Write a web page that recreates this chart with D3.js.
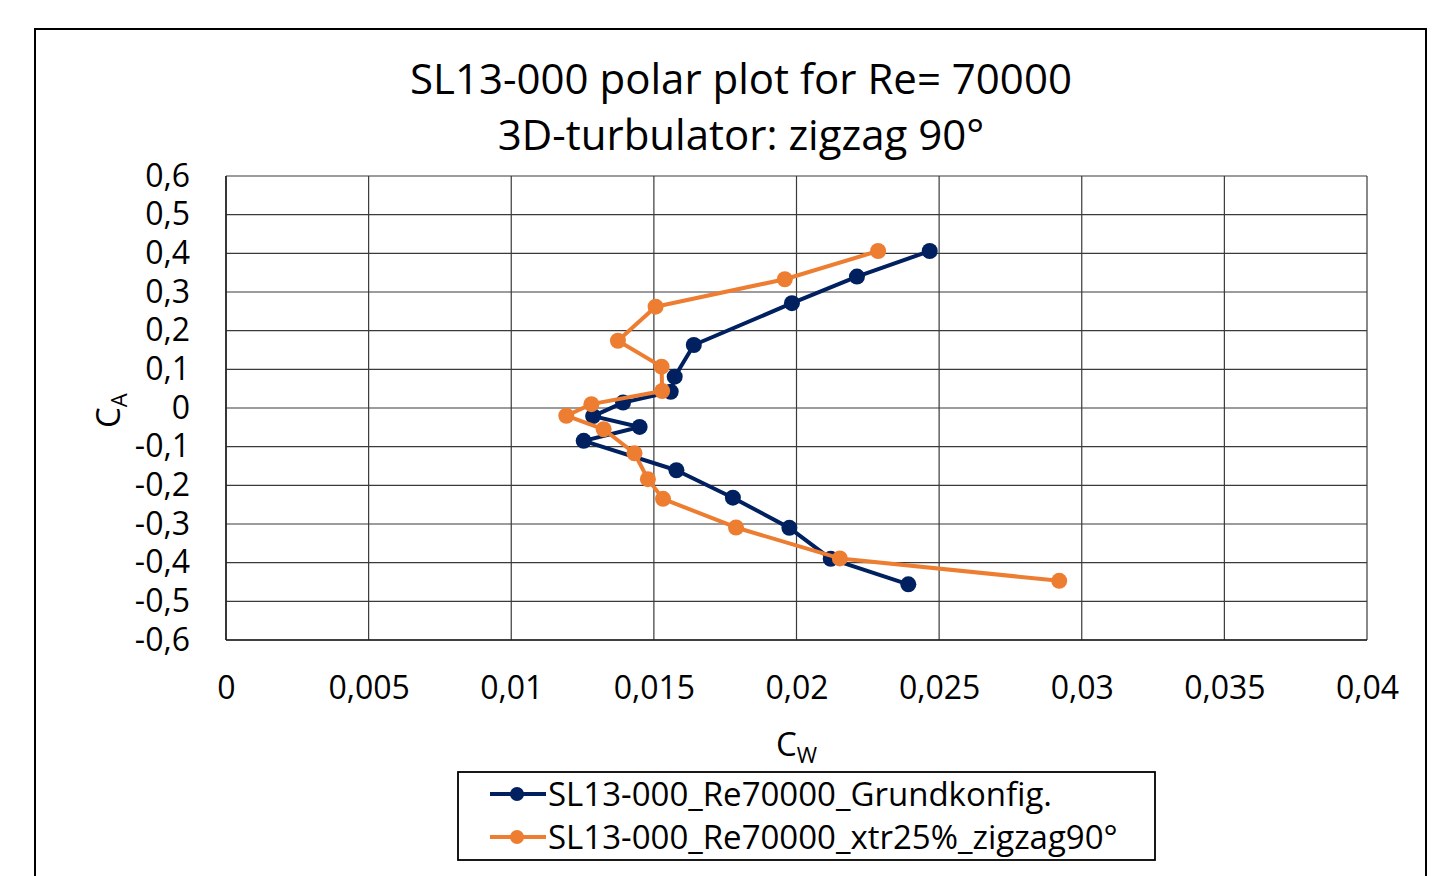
<!DOCTYPE html>
<html>
<head>
<meta charset="utf-8">
<script src="https://cdn.jsdelivr.net/npm/d3@7"></script>
<style>
  body { margin: 0; background: #fff; }
  text { font-family: "Open Sans", sans-serif; fill: #000; }
</style>
</head>
<body>
<div id="chart"></div>
<script>
// Grundkonfig. series (Cw, Ca)
const baseCw = [0.02467, 0.02212, 0.01984, 0.0164, 0.01573, 0.01559, 0.01392, 0.01287, 0.01450, 0.01254, 0.01579, 0.01777, 0.01975, 0.02120, 0.02392];
const baseCa = [0.406, 0.340, 0.271, 0.163, 0.081, 0.042, 0.014, -0.021, -0.049, -0.085, -0.161, -0.232, -0.310, -0.390, -0.456];

// xtr25% zigzag90 series
const zigCw = [0.02286, 0.01959, 0.01506, 0.01374, 0.01527, 0.01529, 0.01281, 0.01193, 0.01324, 0.01432, 0.01479, 0.01532, 0.01788, 0.02152, 0.02921];
const zigCa = [0.406, 0.333, 0.262, 0.174, 0.107, 0.044, 0.010, -0.020, -0.055, -0.117, -0.184, -0.235, -0.309, -0.389, -0.447];

const xTicks = [0, 0.005, 0.01, 0.015, 0.02, 0.025, 0.03, 0.035, 0.04];
const yTicks = [0.6, 0.5, 0.4, 0.3, 0.2, 0.1, 0, -0.1, -0.2, -0.3, -0.4, -0.5, -0.6];

const seriesNames = ["SL13-000_Re70000_Grundkonfig.", "SL13-000_Re70000_xtr25%_zigzag90°"];
const seriesColors = ["#002060", "#ED7D31"];

const W = 1456, H = 876;
const margin = {top: 176, right: 89, bottom: 236, left: 226};
const width = W - margin.left - margin.right;
const height = H - margin.top - margin.bottom;

const fmt = v => String(v).replace(".", ",");

const svg = d3.select("#chart").append("svg")
    .attr("width", W)
    .attr("height", H);

// chart frame
svg.append("rect")
    .attr("x", 35).attr("y", 29)
    .attr("width", 1391).attr("height", 870)
    .attr("fill", "none")
    .attr("stroke", "#000")
    .attr("stroke-width", 2);

// title
svg.append("text")
    .attr("x", 741).attr("y", 94)
    .attr("text-anchor", "middle")
    .style("font-size", "42px")
    .text("SL13-000 polar plot for Re= 70000");
svg.append("text")
    .attr("x", 741).attr("y", 150)
    .attr("text-anchor", "middle")
    .style("font-size", "42px")
    .text("3D-turbulator: zigzag 90°");

const g = svg.append("g")
    .attr("transform", "translate(" + margin.left + "," + margin.top + ")");

const x = d3.scaleLinear().domain([0, 0.04]).range([0, width]);
const y = d3.scaleLinear().domain([-0.6, 0.6]).range([height, 0]);

// gridlines
g.append("g")
    .selectAll("line")
    .data(xTicks)
    .enter()
    .append("line")
    .attr("x1", d => x(d)).attr("x2", d => x(d))
    .attr("y1", 0).attr("y2", height)
    .attr("stroke", "#3a3a3a")
    .attr("stroke-width", 1.2);

g.append("g")
    .selectAll("line")
    .data(yTicks)
    .enter()
    .append("line")
    .attr("x1", 0).attr("x2", width)
    .attr("y1", d => y(d)).attr("y2", d => y(d))
    .attr("stroke", "#3a3a3a")
    .attr("stroke-width", 1.2);

// axes (labels only)
const xAxis = g.append("g")
    .attr("transform", "translate(0," + height + ")")
    .call(d3.axisBottom(x).tickValues(xTicks).tickFormat(fmt).tickSize(0).tickPadding(36));
xAxis.select(".domain").remove();
xAxis.selectAll("text").style("font-size", "32px").style("font-family", "'Open Sans', sans-serif");

const yAxis = g.append("g")
    .call(d3.axisLeft(y).tickValues(yTicks).tickFormat(fmt).tickSize(0).tickPadding(36));
yAxis.select(".domain").remove();
yAxis.selectAll("text").style("font-size", "32px").style("font-family", "'Open Sans', sans-serif");

// plot area left/bottom edges a bit darker
g.append("line").attr("x1", 0).attr("x2", 0).attr("y1", 0).attr("y2", height)
    .attr("stroke", "#222").attr("stroke-width", 1.6);
g.append("line").attr("x1", 0).attr("x2", width).attr("y1", height).attr("y2", height)
    .attr("stroke", "#222").attr("stroke-width", 1.6);

// axis titles
const xt = svg.append("text")
    .attr("x", 776).attr("y", 756)
    .style("font-size", "33px");
xt.append("tspan").text("C");
xt.append("tspan").attr("dy", 7).style("font-size", "22px").text("W");

const yt = svg.append("text")
    .attr("transform", "translate(120,428) rotate(-90)")
    .style("font-size", "33px");
yt.append("tspan").text("C");
yt.append("tspan").attr("dy", 7).style("font-size", "22px").text("A");

// series
const series = [
    baseCw.map((d, i) => ({cw: d, ca: baseCa[i]})),
    zigCw.map((d, i) => ({cw: d, ca: zigCa[i]}))
];

const line = d3.line().x(d => x(d.cw)).y(d => y(d.ca));

series.forEach((s, i) => {
    g.append("path")
        .datum(s)
        .attr("d", line)
        .attr("fill", "none")
        .attr("stroke", seriesColors[i])
        .attr("stroke-width", 4)
        .attr("stroke-linejoin", "round");
    g.append("g")
        .selectAll("circle")
        .data(s)
        .enter()
        .append("circle")
        .attr("cx", d => x(d.cw))
        .attr("cy", d => y(d.ca))
        .attr("r", 8)
        .attr("fill", seriesColors[i]);
});

// legend
const legend = svg.append("g").attr("transform", "translate(458,772)");
legend.append("rect")
    .attr("width", 697).attr("height", 88)
    .attr("fill", "#fff")
    .attr("stroke", "#000")
    .attr("stroke-width", 1.8);

seriesNames.forEach((name, i) => {
    const ly = 22 + i * 43;
    legend.append("line")
        .attr("x1", 32).attr("x2", 88)
        .attr("y1", ly).attr("y2", ly)
        .attr("stroke", seriesColors[i])
        .attr("stroke-width", 4);
    legend.append("circle")
        .attr("cx", 59).attr("cy", ly).attr("r", 7)
        .attr("fill", seriesColors[i]);
    legend.append("text")
        .attr("x", 90).attr("y", ly + 12)
        .style("font-size", "33px")
        .text(name);
});
</script>
</body>
</html>
